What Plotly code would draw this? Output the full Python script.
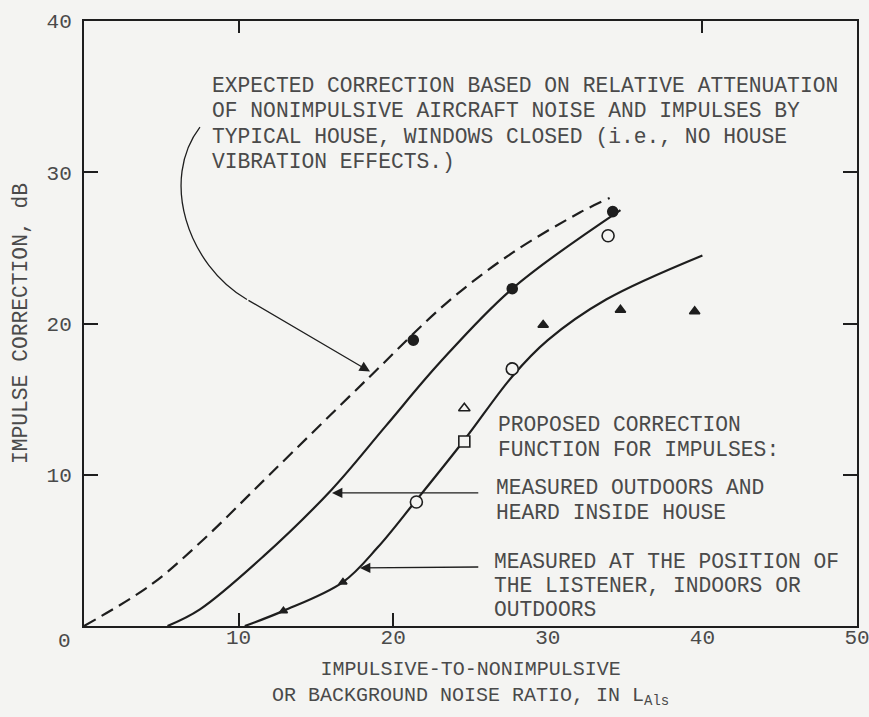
import plotly.graph_objects as go

# Expected correction (dashed)
dashed_x = [0, 4.3, 7.5, 12.0, 18.5, 23.5, 27.75, 32.1, 34.0]
dashed_y = [0, 2.7, 5.5, 10.0, 16.5, 21.4, 24.7, 27.35, 28.3]

# Proposed correction: measured outdoors, heard inside house
inside_x = [5.4, 7.5, 11.6, 16.0, 19.5, 23.0, 27.7, 34.7]
inside_y = [0, 1.1, 4.6, 9.0, 13.2, 17.4, 22.3, 27.5]

# Proposed correction: measured at the listener position
listener_x = [10.4, 12.9, 16.75, 19.0, 21.4, 24.6, 27.7, 30.0, 33.8, 40.0]
listener_y = [0, 1.0, 2.9, 5.2, 8.2, 12.3, 16.5, 18.9, 21.6, 24.5]

# Measured points
filled_circle_x = [21.3, 27.7, 34.2]
filled_circle_y = [18.9, 22.3, 27.4]
open_circle_x = [21.5, 27.7, 33.9]
open_circle_y = [8.2, 17.0, 25.8]
open_square_x = [24.6]
open_square_y = [12.2]
open_triangle_x = [24.6]
open_triangle_y = [14.4]
filled_triangle_x = [29.7, 34.7, 39.5]
filled_triangle_y = [19.9, 20.9, 20.8]
small_triangle_x = [12.9, 16.75]
small_triangle_y = [1.0, 2.9]

x_ticks = [10, 20, 30, 40, 50]
y_ticks = [10, 20, 30, 40]

top_note = [
    "EXPECTED CORRECTION BASED ON RELATIVE ATTENUATION",
    "OF NONIMPULSIVE AIRCRAFT NOISE AND IMPULSES BY",
    "TYPICAL HOUSE, WINDOWS CLOSED (i.e., NO HOUSE",
    "VIBRATION EFFECTS.)",
]
proposed_note = ["PROPOSED CORRECTION", "FUNCTION FOR IMPULSES:"]
inside_note = ["MEASURED OUTDOORS AND", "HEARD INSIDE HOUSE"]
listener_note = ["MEASURED AT THE POSITION OF", "THE LISTENER, INDOORS OR", "OUTDOORS"]

INK = "#1e1e1e"
TEXT = "#4a4a4a"
BG = "#f4f4f2"
FONT = "Liberation Mono, Courier New, monospace"

fig = go.Figure()

line_style = dict(color=INK, width=2.2, shape="spline", smoothing=1.0)
fig.add_trace(go.Scatter(x=dashed_x, y=dashed_y, mode="lines", xaxis="x2", yaxis="y2",
                         line=dict(dash="13px,7px", **line_style)))
fig.add_trace(go.Scatter(x=inside_x, y=inside_y, mode="lines", line=line_style))
fig.add_trace(go.Scatter(x=listener_x, y=listener_y, mode="lines", line=line_style))


def add_points(xs, ys, symbol, size, fill):
    fig.add_trace(go.Scatter(x=xs, y=ys, mode="markers",
                             marker=dict(symbol=symbol, size=size, color=fill,
                                         line=dict(color=INK, width=1.6))))


add_points(filled_circle_x, filled_circle_y, "circle", 10, INK)
add_points(open_circle_x, open_circle_y, "circle", 12, BG)
add_points(open_square_x, open_square_y, "square", 11, BG)
add_points(open_triangle_x, open_triangle_y, "triangle-up", 10, BG)
add_points(filled_triangle_x, filled_triangle_y, "triangle-up", 9, INK)
add_points(small_triangle_x, small_triangle_y, "triangle-up", 7, INK)

# Leader lines (data coordinates)
fig.add_shape(type="path", xref="x", yref="y",
              path="M 7.5,32.98 C 4.92,29.54 6.66,23.91 10.54,21.59",
              line=dict(color=INK, width=1.3))
arrows = [
    (18.5, 16.82, 10.54, 21.59),
    (16.04, 8.8, 25.6, 8.8),
    (17.85, 3.84, 25.6, 3.9),
]
for tx, ty, sx, sy in arrows:
    fig.add_annotation(x=tx, y=ty, ax=sx, ay=sy, xref="x", yref="y", axref="x", ayref="y",
                       text="", showarrow=True, arrowhead=2, arrowsize=1.6,
                       arrowwidth=1.3, arrowcolor=INK, standoff=0)


def add_block(lines, x0, y0, step=1.68):
    for i, txt in enumerate(lines):
        fig.add_annotation(x=x0, y=y0 - i * step, xref="x", yref="y", text=txt,
                           showarrow=False, xanchor="left", yanchor="middle",
                           font=dict(family=FONT, size=21.3, color=TEXT))


add_block(top_note, 8.15, 35.7)
add_block(proposed_note, 26.65, 13.3, 1.64)
add_block(inside_note, 26.5, 9.14, 1.64)
add_block(listener_note, 26.4, 4.24, 1.59)

# "0" sits left of the corner in the original
fig.add_annotation(x=0, y=0, xref="x", yref="y", text="0", showarrow=False,
                   xshift=-20, yshift=-15, font=dict(family=FONT, size=21, color=TEXT))

fig.add_annotation(x=0.5, y=-0.05, xref="paper", yref="paper", showarrow=False,
                   yanchor="top", align="center",
                   text="IMPULSIVE-TO-NONIMPULSIVE<br>OR BACKGROUND NOISE RATIO, IN L<sub>Als</sub>",
                   font=dict(family=FONT, size=20, color=TEXT))
fig.add_annotation(x=-0.082, y=0.5, xref="paper", yref="paper", showarrow=False,
                   xanchor="center", yanchor="middle",
                   textangle=-90, text="IMPULSE CORRECTION, dB",
                   font=dict(family=FONT, size=21.3, color=TEXT))

axis_common = dict(showgrid=False, zeroline=False, tickcolor=INK, tickwidth=1.6,
                   automargin=False)
fig.update_layout(
    width=869, height=717,
    margin=dict(l=84, r=12, t=21, b=91),
    paper_bgcolor=BG, plot_bgcolor=BG,
    showlegend=False,
    font=dict(family=FONT, size=21, color=TEXT),
    xaxis=dict(range=[0, 50], showline=True, mirror=True, linecolor=INK, linewidth=2,
               tickvals=x_ticks, ticks="", ticklabelstandoff=-9,
               ticklabeloverflow="allow",
               minor=dict(tickmode="array", tickvals=[10, 20], ticks="inside",
                          ticklen=13, tickcolor=INK, tickwidth=1.6),
               **axis_common),
    xaxis2=dict(range=[0, 50], overlaying="x", side="top", tickvals=[10, 40],
                ticks="inside", ticklen=12, showticklabels=False, **axis_common),
    yaxis=dict(range=[0, 40], showline=True, mirror=True, linecolor=INK, linewidth=2,
               tickvals=y_ticks, ticks="inside", ticklen=14, ticklabelstandoff=6,
               **axis_common),
    yaxis2=dict(range=[0, 40], overlaying="y", side="right", tickvals=[10, 20, 30],
                ticks="inside", ticklen=14, showticklabels=False, **axis_common),
)

# drop the browser's default body margin so the figure sits at the window corner
fig.write_html("out.html", config={"displayModeBar": False},
               post_script="document.body.style.margin='0';"
                           "document.body.style.background='" + BG + "';")
